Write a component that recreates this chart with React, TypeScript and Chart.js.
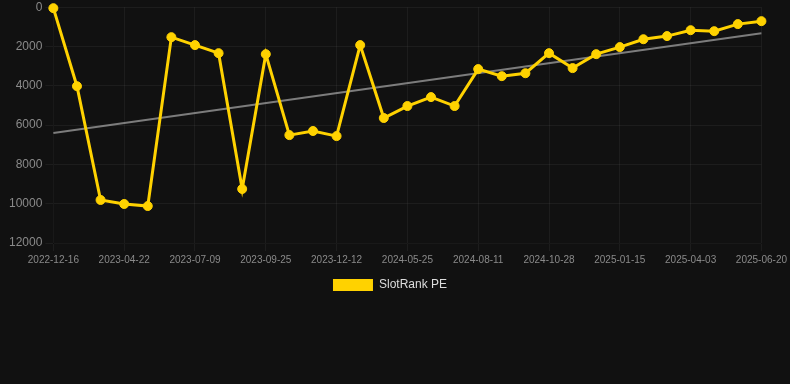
import React, { useEffect, useRef } from "react";
import { Chart, registerables } from "chart.js";

Chart.register(...registerables);

const dates = [
  "2022-12-16", "2023-02-01", "2023-03-10", "2023-04-22", "2023-05-18", "2023-06-13",
  "2023-07-09", "2023-08-04", "2023-08-30", "2023-09-25", "2023-10-21", "2023-11-16",
  "2023-12-12", "2024-02-15", "2024-04-01", "2024-05-25", "2024-06-20", "2024-07-16",
  "2024-08-11", "2024-09-06", "2024-10-02", "2024-10-28", "2024-11-23", "2024-12-20",
  "2025-01-15", "2025-02-10", "2025-03-08", "2025-04-03", "2025-04-29", "2025-05-25",
  "2025-06-20",
];

const rankValues = [
  50, 4020, 9810, 10015, 10120, 1525, 1930, 2340, 9250, 2390, 6510, 6300,
  6560, 1930, 5640, 5030, 4575, 5030, 3150, 3510, 3360, 2340, 3100, 2390,
  2030, 1630, 1470, 1170, 1220, 860, 710,
];

const trendValues: (number | null)[] = [
  6400, null, null, null, null, null, null, null, null, null, null, null,
  null, null, null, null, null, null, null, null, null, null, null, null,
  null, null, null, null, null, null, 1320,
];

const yTicks = [0, 2000, 4000, 6000, 8000, 10000, 12000];

export default function App() {
  const ref = useRef<HTMLCanvasElement>(null);
  useEffect(() => {
    document.body.style.margin = "0";
    document.body.style.background = "#111111";
    const chart = new Chart(ref.current!, {
      type: "line",
      data: {
        labels: dates,
        datasets: [
          {
            label: "SlotRank PE",
            data: rankValues,
            borderColor: "#ffd200",
            backgroundColor: "#ffd200",
            borderWidth: 3,
            pointRadius: 4.5,
            pointBorderWidth: 1,
            pointBackgroundColor: "#ffd200",
            pointBorderColor: "#ffd200",
            tension: 0,
            clip: false,
          },
          {
            label: "trend",
            data: trendValues,
            borderColor: "rgba(160,160,160,0.75)",
            borderWidth: 2,
            pointRadius: 0,
            spanGaps: true,
          },
        ],
      },
      options: {
        animation: false,
        responsive: true,
        maintainAspectRatio: false,
        layout: { padding: { left: 6, right: 16 } },
        plugins: {
          tooltip: { enabled: false },
          legend: {
            position: "bottom",
            labels: {
              color: "#dddddd",
              font: { size: 12 },
              boxWidth: 40,
              boxHeight: 12,
              generateLabels: (c) =>
                Chart.defaults.plugins.legend.labels
                  .generateLabels(c)
                  .filter((it) => it.text !== "trend")
                  .map((it) => ({ ...it, lineWidth: 0, fillStyle: "#ffd200" })),
            },
          },
        },
        scales: {
          x: {
            ticks: {
              color: "#8a8a8a",
              font: { size: 10 },
              maxRotation: 0,
              autoSkip: true,
              callback: function (_v, i) {
                return i % 3 === 0 ? dates[i] : null;
              },
            },
            grid: { color: "rgba(255,255,255,0.05)" },
          },
          y: {
            reverse: true,
            min: yTicks[0],
            max: yTicks[yTicks.length - 1],
            afterBuildTicks: (axis) => {
              axis.ticks = yTicks.map((v) => ({ value: v }));
            },
            ticks: {
              color: "#8a8a8a",
              font: { size: 12 },
              callback: (v) => String(v),
            },
            grid: { color: "rgba(255,255,255,0.05)" },
          },
        },
      },
    });
    return () => chart.destroy();
  }, []);
  return (
    <div style={{ width: 790, height: 304, marginTop: -3, position: "relative" }}>
      <canvas ref={ref} />
    </div>
  );
}
